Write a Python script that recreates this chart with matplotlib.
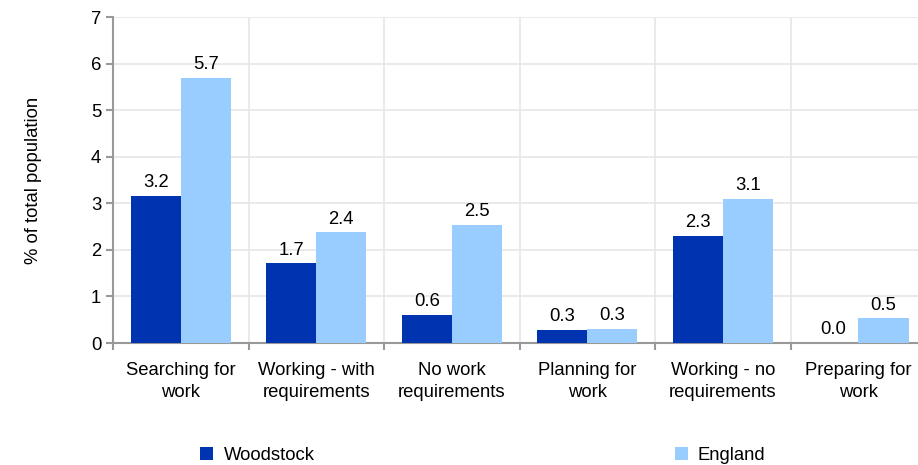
import numpy as np
import matplotlib.pyplot as plt

categories = ['Searching for\nwork', 'Working - with\nrequirements', 'No work\nrequirements',
              'Planning for\nwork', 'Working - no\nrequirements', 'Preparing for\nwork']
woodstock = [3.16, 1.71, 0.6, 0.28, 2.3, 0.0]
england = [5.7, 2.38, 2.54, 0.3, 3.1, 0.53]

plt.rcParams['font.family'] = ['Liberation Sans', 'DejaVu Sans']
fs = 13.3

fig = plt.figure(figsize=(9.18, 4.65), dpi=100)
ax = fig.add_axes([113/918, 1 - 343/465, 1 - 113/918, (343 - 17)/465])

x = np.arange(len(categories))
w = 0.37
b1 = ax.bar(x - w/2, woodstock, w, color='#0033b0', label='Woodstock', zorder=3)
b2 = ax.bar(x + w/2, england, w, color='#99ccff', label='England', zorder=3)

for bars, vals in [(b1, woodstock), (b2, england)]:
    for r, v in zip(bars, vals):
        ax.text(r.get_x() + r.get_width()/2, v + 0.1, f'{v:.1f}',
                ha='center', va='bottom', fontsize=fs)

ax.set_yticks(range(8))
ax.set_xticks(x)
ax.set_xticklabels(categories, fontsize=fs, linespacing=1.37)
ax.set_xticks(np.arange(-0.5, 6, 1), minor=True)
# limits after the ticks, otherwise set_xticks widens the view
ax.set_ylim(0, 7)
ax.set_xlim(-0.5, 5.44)
ax.tick_params(axis='x', which='major', length=0, pad=14)
ax.tick_params(axis='x', which='minor', length=5, color='#999999', width=1.5)
ax.tick_params(axis='y', length=5, color='#999999', width=1.5, labelsize=fs)
ax.grid(axis='y', color='#e6e6e6', lw=1.2, zorder=0)
ax.grid(axis='x', which='minor', color='#e6e6e6', lw=1.2, zorder=0)
for s in ['top', 'right']:
    ax.spines[s].set_visible(False)
for s in ['left', 'bottom']:
    ax.spines[s].set_color('#999999')
    ax.spines[s].set_linewidth(1.5)
ax.set_ylabel('% of total population', fontsize=fs, labelpad=35)

fig.legend(handles=[b1, b2], loc='center', bbox_to_anchor=(483/918, 1 - 455/465),
           ncol=2, frameon=False, fontsize=fs, columnspacing=19.5,
           handlelength=0.7, handleheight=0.7, handletextpad=0.55)

fig.savefig('out.png', dpi=100)
